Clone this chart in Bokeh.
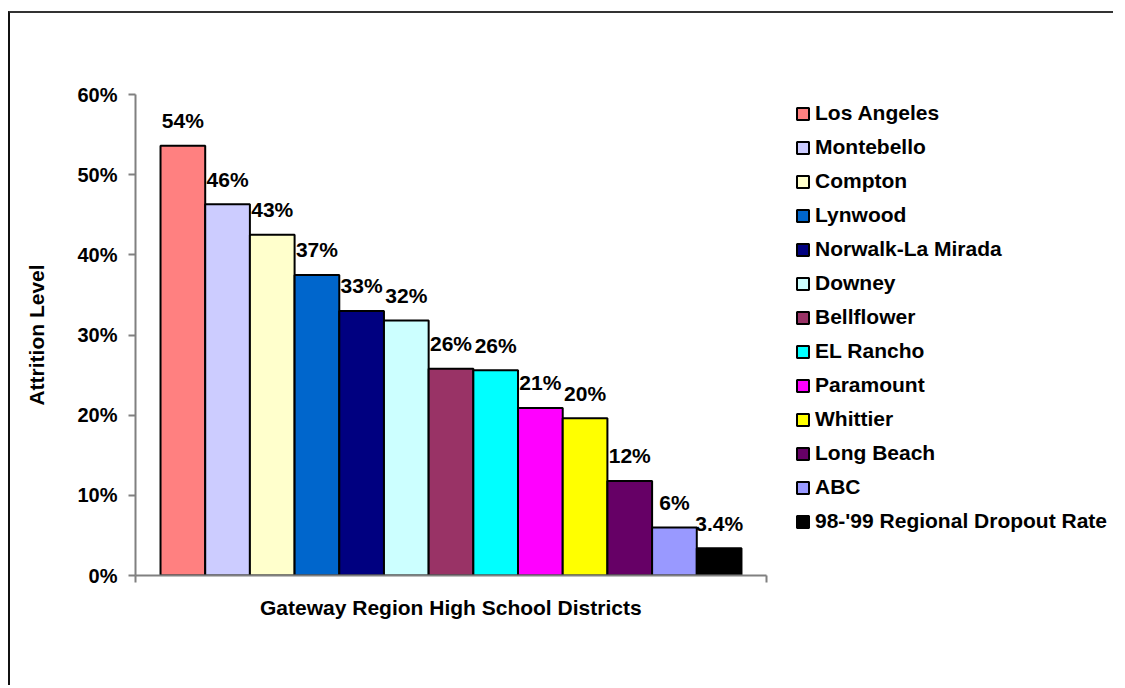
from bokeh.plotting import figure
from bokeh.models import (Range1d, FixedTicker, NumeralTickFormatter, Legend,
                          LegendItem, ColumnDataSource, Title)
from bokeh.embed import file_html
from bokeh.resources import INLINE
from bokeh.core.properties import value

# ---- data ----
districts = ["Los Angeles", "Montebello", "Compton", "Lynwood", "Norwalk-La Mirada",
             "Downey", "Bellflower", "EL Rancho", "Paramount", "Whittier",
             "Long Beach", "ABC", "98-'99 Regional Dropout Rate"]
rates = [0.536, 0.463, 0.425, 0.375, 0.330, 0.318, 0.258, 0.256, 0.209, 0.196,
         0.118, 0.060, 0.034]
rate_labels = ["54%", "46%", "43%", "37%", "33%", "32%", "26%", "26%", "21%", "20%",
               "12%", "6%", "3.4%"]
colors = ["#FF8080", "#CCCCFF", "#FFFFCC", "#0066CC", "#000080", "#CCFFFF",
          "#993366", "#00FFFF", "#FF00FF", "#FFFF00", "#660066", "#9999FF", "#000000"]
y_ticks = [0.0, 0.1, 0.2, 0.3, 0.4, 0.5, 0.6]
x_title = "Gateway Region High School Districts"
y_title = "Attrition Level"

FONT = value("Liberation Sans")
n = len(districts)
pad = 0.56

# layout (canvas pixels)
W, H = 1105, 674
FL, FT, FB = 125, 81, 562          # frame left / top / bottom
AX_RIGHT = 756                     # where the x axis ends
ppu = (AX_RIGHT - FL) / (n + 2 * pad)
x_end = -pad + (W - FL) / ppu

p = figure(width=W, height=H, output_backend="svg", toolbar_location=None,
           x_range=Range1d(-pad, x_end), y_range=Range1d(0, 0.6),
           min_border_left=FL, min_border_right=0,
           min_border_top=FT, min_border_bottom=H - FB)
p.styles = {"border-top": "2px solid #333333", "border-left": "2px solid #111111",
            "margin-top": "11px", "margin-left": "8px"}
p.outline_line_color = None
p.xgrid.grid_line_color = None
p.ygrid.grid_line_color = None
p.background_fill_color = "white"
p.border_fill_color = "white"

src = ColumnDataSource(dict(x=[i + 0.5 for i in range(n)], top=rates,
                            color=colors, name=districts, lbl=rate_labels))
bars = p.vbar(x="x", width=1, top="top", bottom=0, source=src,
              fill_color="color", line_color="black", line_width=2)
p.text(x="x", y="top", text="lbl", source=src, text_align="center",
       text_baseline="alphabetic", y_offset=-25, text_font=FONT,
       text_font_style="bold", text_font_size="21px", text_color="black")

# y axis
ya = p.yaxis[0]
ya.ticker = FixedTicker(ticks=y_ticks)
ya.formatter = NumeralTickFormatter(format="0%")
ya.major_label_text_font = "Liberation Sans"
ya.major_label_text_font_style = "bold"
ya.major_label_text_font_size = "20px"
ya.major_label_text_color = "black"
ya.major_label_standoff = 11
ya.axis_line_color = "#808080"
ya.axis_line_width = 2
ya.major_tick_line_color = "#808080"
ya.major_tick_line_width = 2
ya.major_tick_out = 7
ya.major_tick_in = 0
ya.minor_tick_line_color = None
ya.axis_label = y_title
ya.axis_label_text_font = "Liberation Sans"
ya.axis_label_text_font_style = "bold"
ya.axis_label_text_font_size = "21px"
ya.axis_label_text_color = "black"
ya.axis_label_standoff = 26

# x axis (drawn only across the bars' category)
xa = p.xaxis[0]
xa.bounds = (-pad, n + pad)
xa.ticker = FixedTicker(ticks=[-pad, n + pad])
xa.major_label_overrides = {-pad: "", n + pad: ""}
xa.axis_line_color = "#808080"
xa.axis_line_width = 2
xa.major_tick_line_color = "#808080"
xa.major_tick_line_width = 2
xa.major_tick_out = 7
xa.major_tick_in = 0
xa.minor_tick_line_color = None

# x axis title, centred under the drawn axis
title_w = 382
axis_mid = (AX_RIGHT - FL) / 2
xt = Title(text=x_title, align="left", offset=axis_mid - title_w / 2,
           text_font="Liberation Sans", text_font_style="bold",
           text_font_size="21px", text_color="black", standoff=23)
p.add_layout(xt, "below")

items = [LegendItem(label=d, renderers=[bars], index=i) for i, d in enumerate(districts)]
legend = Legend(items=items, location=(660, 42), padding=0, margin=0,
                border_line_color=None, background_fill_alpha=0,
                glyph_width=15, glyph_height=15, label_standoff=5,
                label_height=24, spacing=10,
                label_text_font="Liberation Sans", label_text_font_style="bold",
                label_text_font_size="21px", label_text_color="black")
p.add_layout(legend, "center")

open("out.html", "w").write(file_html(p, INLINE))
